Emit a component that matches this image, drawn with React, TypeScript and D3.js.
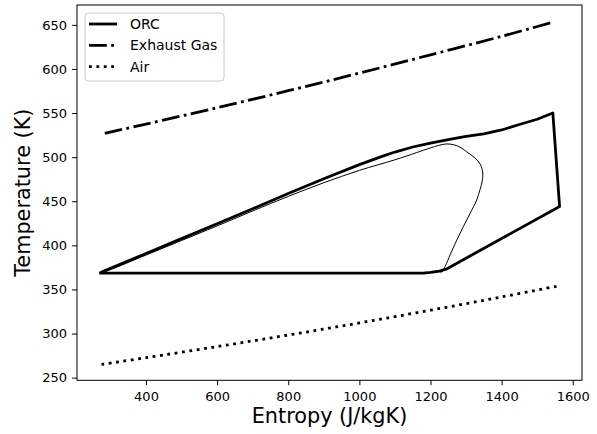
import React, { useEffect, useRef } from 'react';
import * as d3 from 'd3';

// ORC cycle (thick)
const orcS = [269, 280, 400, 500, 600, 700, 800, 900, 1000, 1058, 1100, 1150, 1200, 1250, 1300, 1350, 1400, 1450, 1500, 1544, 1563, 1244, 1225, 1200, 1180, 269];
const orcT = [368.4, 370.5, 390.8, 407.6, 424.5, 441.5, 458.8, 475.5, 491.5, 500, 505.8, 511.5, 515.8, 519.8, 523.5, 526.5, 530.8, 537, 543, 550, 444, 373, 370.8, 369.3, 368.6, 368.4];

// saturation dome (thin)
const domeS = [269, 300, 400, 500, 600, 700, 800, 900, 1000, 1100, 1160, 1200, 1246, 1280, 1302, 1325, 1340, 1347, 1345, 1339, 1330, 1311, 1292, 1274, 1256, 1241, 1229];
const domeT = [368.4, 372.5, 389, 405.5, 422, 439, 455.5, 471, 485, 497, 505, 510.5, 515, 512, 506, 499, 492, 482, 472, 463, 451.5, 436, 421, 406, 390, 376, 368.5];

const gasS = [284, 400, 600, 800, 1000, 1200, 1400, 1544];
const gasT = [527, 537.5, 556, 575.3, 595.3, 616, 637, 653];

const airS = [275, 400, 600, 800, 1000, 1200, 1400, 1559];
const airT = [265, 272.6, 285.2, 298.3, 312.1, 326.5, 341.5, 354];

const xTicks = [400, 600, 800, 1000, 1200, 1400, 1600];
const yTicks = [250, 300, 350, 400, 450, 500, 550, 600, 650];

const legendItems = ['ORC', 'Exhaust Gas', 'Air'];

const W = 597;
const H = 434;
const FONT = 'DejaVu Sans, sans-serif';

const zip = (s: number[], t: number[]) => s.map((v, i) => [v, t[i]] as [number, number]);

export default function App() {
  const svgRef = useRef<SVGSVGElement>(null);

  useEffect(() => {
    if (!svgRef.current) return;
    const svg = d3.select(svgRef.current);
    svg.selectAll('*').remove();

    const x = d3.scaleLinear().domain([206, 1626]).range([77, 582]);
    const y = d3.scaleLinear().domain([247, 672.5]).range([380.3, 5]);

    const line = d3.line<[number, number]>()
      .x(d => x(d[0]))
      .y(d => y(d[1]));

    // solid, dash-dot, dotted
    const dashes = [null, '17.8,4.4,2.8,4.4', '2.8,4.6'];

    // thin dome
    svg.append('path')
      .datum(zip(domeS, domeT))
      .attr('fill', 'none')
      .attr('stroke', 'black')
      .attr('stroke-width', 1)
      .attr('d', line.curve(d3.curveCatmullRom.alpha(0.5)));

    // ORC cycle
    svg.append('path')
      .datum(zip(orcS, orcT))
      .attr('fill', 'none')
      .attr('stroke', 'black')
      .attr('stroke-width', 2.8)
      .attr('stroke-linejoin', 'round')
      .attr('d', line.curve(d3.curveLinear));

    // exhaust gas
    svg.append('path')
      .datum(zip(gasS, gasT))
      .attr('fill', 'none')
      .attr('stroke', 'black')
      .attr('stroke-width', 2.8)
      .attr('stroke-dasharray', dashes[1])
      .attr('d', line.curve(d3.curveCatmullRom.alpha(0.5)));

    // air
    svg.append('path')
      .datum(zip(airS, airT))
      .attr('fill', 'none')
      .attr('stroke', 'black')
      .attr('stroke-width', 2.8)
      .attr('stroke-dasharray', dashes[2])
      .attr('d', line.curve(d3.curveCatmullRom.alpha(0.5)));

    // axes
    const xAxis = svg.append('g')
      .attr('transform', 'translate(0,380.3)')
      .call(d3.axisBottom(x).tickValues(xTicks).tickFormat(d3.format('d')).tickSize(4.9).tickPadding(7).tickSizeOuter(0));
    const yAxis = svg.append('g')
      .attr('transform', 'translate(77,0)')
      .call(d3.axisLeft(y).tickValues(yTicks).tickFormat(d3.format('d')).tickSize(4.9).tickPadding(5).tickSizeOuter(0));
    [xAxis, yAxis].forEach(g => {
      g.select('.domain').remove();
      g.selectAll('line').attr('stroke', 'black').attr('stroke-width', 1);
      g.selectAll('text')
        .attr('fill', 'black')
        .attr('font-family', FONT)
        .attr('font-size', 13);
    });

    // frame
    svg.append('rect')
      .attr('x', 77)
      .attr('y', 5)
      .attr('width', 582 - 77)
      .attr('height', 380.3 - 5)
      .attr('fill', 'none')
      .attr('stroke', 'black')
      .attr('stroke-width', 1);

    // axis labels
    svg.append('text')
      .attr('x', 329.5)
      .attr('y', 423)
      .attr('text-anchor', 'middle')
      .attr('font-family', FONT)
      .attr('font-size', 20.8)
      .text('Entropy (J/kgK)');

    svg.append('text')
      .attr('transform', 'translate(30,192.7) rotate(-90)')
      .attr('text-anchor', 'middle')
      .attr('font-family', FONT)
      .attr('font-size', 20.8)
      .text('Temperature (K)');

    // legend
    const lg = svg.append('g');
    lg.append('rect')
      .attr('x', 85)
      .attr('y', 13)
      .attr('width', 139)
      .attr('height', 68)
      .attr('rx', 3)
      .attr('fill', 'white')
      .attr('fill-opacity', 0.8)
      .attr('stroke', '#cccccc')
      .attr('stroke-width', 1);
    legendItems.forEach((name, i) => {
      const cy = 24 + i * 21.3;
      lg.append('line')
        .attr('x1', 89)
        .attr('x2', 117)
        .attr('y1', cy)
        .attr('y2', cy)
        .attr('stroke', 'black')
        .attr('stroke-width', 2.8)
        .attr('stroke-dasharray', dashes[i]);
      lg.append('text')
        .attr('x', 130)
        .attr('y', cy + 5)
        .attr('font-family', FONT)
        .attr('font-size', 14)
        .text(name);
    });
  }, []);

  return (
    <svg
      ref={svgRef}
      width={W}
      height={H}
      style={{ position: 'absolute', left: 0, top: 0, background: 'white' }}
    />
  );
}
